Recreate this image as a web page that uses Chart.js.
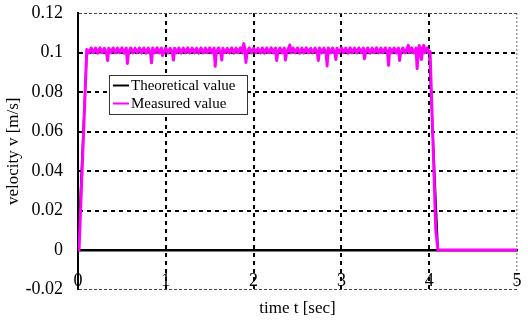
<!DOCTYPE html>
<html>
<head>
<meta charset="utf-8">
<script src="https://cdn.jsdelivr.net/npm/chart.js@4/dist/chart.umd.min.js"></script>
<style>
  html, body { margin: 0; padding: 0; background: #fff; }
  #wrap { width: 528px; height: 322px; }
</style>
</head>
<body>
<div id="wrap"><canvas id="c" width="528" height="322"></canvas></div>
<script>
// ---- data ----
const xTickLabels = ["0", "1", "2", "3", "4", "5"];
const yTickLabels = ["-0.02", "0", "0.02", "0.04", "0.06", "0.08", "0.1", "0.12"];
const seriesNames = ["Theoretical value", "Measured value"];

const theoretical = [
  [0, 0], [0.1, 0.1], [4.0, 0.1], [4.1, 0], [5.0, 0]
];

const measured = [
  [0, 0], [0.012, 0], [0.100, 0.1015],
  [0.125, 0.0998], [0.150, 0.1023], [0.175, 0.0999], [0.200, 0.1022], [0.225, 0.0997],
  [0.250, 0.1024], [0.275, 0.0999], [0.300, 0.1021], [0.325, 0.0998], [0.3375, 0.0960],
  [0.350, 0.1022], [0.375, 0.0999], [0.400, 0.1023], [0.425, 0.0998], [0.450, 0.1022],
  [0.475, 0.0999], [0.500, 0.1024], [0.525, 0.0997], [0.550, 0.1022], [0.5625, 0.0945],
  [0.575, 0.0998], [0.600, 0.1023], [0.625, 0.0998], [0.650, 0.1021], [0.675, 0.0999],
  [0.700, 0.1022], [0.725, 0.0998], [0.750, 0.1023], [0.775, 0.0997], [0.800, 0.1022],
  [0.825, 0.0999], [0.8375, 0.0948], [0.850, 0.1023], [0.875, 0.0998], [0.900, 0.1024],
  [0.925, 0.0998], [0.950, 0.1022], [0.9625, 0.0985], [0.975, 0.0999], [1.000, 0.1023],
  [1.025, 0.0998], [1.050, 0.1021], [1.075, 0.0999], [1.0875, 0.0962], [1.100, 0.1022],
  [1.125, 0.0998], [1.150, 0.1023], [1.175, 0.0997], [1.200, 0.1022], [1.225, 0.0999],
  [1.250, 0.1024], [1.275, 0.0998], [1.300, 0.1022], [1.325, 0.0999], [1.350, 0.1021],
  [1.375, 0.0997], [1.400, 0.1023], [1.425, 0.0998], [1.450, 0.1022], [1.475, 0.0999],
  [1.500, 0.1024], [1.525, 0.0998], [1.550, 0.1022], [1.5625, 0.0930], [1.575, 0.0999],
  [1.600, 0.1023], [1.625, 0.0998], [1.6375, 0.0962], [1.650, 0.1022], [1.675, 0.0999],
  [1.700, 0.1021], [1.725, 0.0998], [1.750, 0.1023], [1.775, 0.0997], [1.800, 0.1022],
  [1.825, 0.0999], [1.850, 0.1024], [1.875, 0.0998], [1.8875, 0.1045], [1.900, 0.1022],
  [1.9125, 0.0950], [1.925, 0.0999], [1.950, 0.1023], [1.975, 0.0998], [2.000, 0.1022],
  [2.025, 0.0999], [2.050, 0.1021], [2.075, 0.0998], [2.100, 0.1023], [2.125, 0.0997],
  [2.150, 0.1022], [2.175, 0.0999], [2.200, 0.1024], [2.225, 0.0998], [2.250, 0.1022],
  [2.2625, 0.0960], [2.275, 0.0999], [2.300, 0.1023], [2.325, 0.0998], [2.350, 0.1022],
  [2.3625, 0.0962], [2.375, 0.0999], [2.400, 0.1023], [2.4125, 0.1038], [2.425, 0.0998],
  [2.450, 0.1022], [2.475, 0.0999], [2.500, 0.1023], [2.525, 0.0997], [2.550, 0.1022],
  [2.575, 0.0998], [2.600, 0.1024], [2.625, 0.0999], [2.650, 0.1021], [2.675, 0.0998],
  [2.700, 0.1022], [2.725, 0.0999], [2.7375, 0.0960], [2.750, 0.1023], [2.775, 0.0998],
  [2.800, 0.1022], [2.825, 0.0999], [2.8375, 0.0932], [2.850, 0.1023], [2.875, 0.0998],
  [2.900, 0.1022], [2.925, 0.0999], [2.9375, 0.0965], [2.950, 0.1021], [2.975, 0.0998],
  [3.000, 0.1023], [3.025, 0.0999], [3.050, 0.1022], [3.075, 0.0997], [3.100, 0.1024],
  [3.125, 0.0999], [3.150, 0.1022], [3.175, 0.0998], [3.200, 0.1023], [3.225, 0.0999],
  [3.250, 0.1022], [3.2625, 0.0968], [3.275, 0.0998], [3.300, 0.1023], [3.325, 0.0997],
  [3.350, 0.1022], [3.375, 0.0999], [3.400, 0.1024], [3.425, 0.0998], [3.450, 0.1022],
  [3.475, 0.0999], [3.500, 0.1023], [3.525, 0.0998], [3.5375, 0.0935], [3.550, 0.1022],
  [3.575, 0.0999], [3.600, 0.1023], [3.625, 0.0998], [3.650, 0.1022], [3.6625, 0.0960],
  [3.675, 0.0999], [3.700, 0.1023], [3.725, 0.0998], [3.750, 0.1022], [3.7625, 0.1036],
  [3.775, 0.0999], [3.800, 0.1024], [3.825, 0.0998], [3.850, 0.1022], [3.8625, 0.0918],
  [3.875, 0.0999], [3.8875, 0.1035], [3.900, 0.0998], [3.9125, 0.0965], [3.925, 0.1022],
  [3.9375, 0.1036], [3.950, 0.0999], [3.975, 0.1023], [4.000, 0.0999],
  [4.010, 0.1005], [4.075, 0.0100], [4.100, 0], [5.000, 0]
];

const toPts = arr => arr.map(p => ({ x: p[0], y: p[1] }));

const FONT = "'Liberation Serif', 'Times New Roman', serif";

// custom boxed legend inside the plot area
const boxLegend = {
  id: 'boxLegend',
  afterDatasetsDraw(chart) {
    const { ctx, chartArea } = chart;
    const x0 = chartArea.left + 31, y0 = chartArea.top + 62;
    const w = 138, h = 39;
    ctx.save();
    ctx.fillStyle = '#fff';
    ctx.fillRect(x0, y0, w, h);
    ctx.strokeStyle = '#333';
    ctx.lineWidth = 1;
    ctx.strokeRect(x0 + 0.5, y0 + 0.5, w, h);
    ctx.font = "15px " + FONT;
    ctx.textBaseline = 'middle';
    ctx.textAlign = 'left';
    chart.data.datasets.forEach((ds, i) => {
      const yy = y0 + 10.5 + i * 18;
      ctx.strokeStyle = ds.borderColor;
      ctx.lineWidth = 2;
      ctx.beginPath();
      ctx.moveTo(x0 + 4, yy);
      ctx.lineTo(x0 + 20, yy);
      ctx.stroke();
      ctx.fillStyle = '#000';
      ctx.fillText(ds.label, x0 + 22, yy + 0.5);
    });
    ctx.restore();
  }
};

new Chart(document.getElementById('c'), {
  type: 'line',
  data: {
    datasets: [
      {
        label: seriesNames[0],
        data: toPts(theoretical),
        borderColor: '#000000',
        borderWidth: 2,
        pointRadius: 0,
        tension: 0,
        order: 1
      },
      {
        label: seriesNames[1],
        data: toPts(measured),
        borderColor: '#FF00FF',
        borderWidth: 3,
        borderJoinStyle: 'round',
        pointRadius: 0,
        tension: 0,
        order: 0
      }
    ]
  },
  options: {
    responsive: false,
    animation: false,
    layout: { padding: { top: 13, right: 11, bottom: 3, left: 0 } },
    plugins: {
      legend: { display: false },
      tooltip: { enabled: false },
      title: {
        display: true,
        text: 'time t [sec]',
        position: 'bottom',
        fullSize: false,
        color: '#000',
        font: { family: FONT, size: 17, weight: 'normal' },
        padding: { top: 9, bottom: 0 }
      }
    },
    scales: {
      x: {
        type: 'linear',
        min: 0,
        max: 5,
        position: { y: 0 },
        border: {
          display: true, color: '#000', width: 2.5,
          dash: ctx => {
            const v = ctx.tick ? ctx.tick.value : null;
            if (v === 5) return [2, 2];
            return [4, 4];
          }
        },
        grid: {
          drawTicks: true,
          tickLength: 20,
          tickColor: 'rgba(0,0,0,0)',
          color: ctx => {
            const v = ctx.tick ? ctx.tick.value : null;
            if (v === 0) return 'rgba(0,0,0,0)';
            if (v === 5) return '#999';
            return '#000';
          },
          lineWidth: ctx => {
            const v = ctx.tick ? ctx.tick.value : null;
            if (v === 5) return 1.5;
            return 2;
          }
        },
        ticks: {
          stepSize: 1,
          padding: 0,
          color: '#000',
          font: { family: FONT, size: 18 },
          maxRotation: 0,
          callback: (value, index) => xTickLabels[index]
        }
      },
      y: {
        type: 'linear',
        min: -0.02,
        max: 0.12,
        position: 'left',
        afterFit: scale => { scale.width = 78; },
        border: {
          display: true, color: '#000', width: 2,
          dash: ctx => {
            const i = ctx.index;
            if (i === 0 || i === yTickLabels.length - 1) return [3, 2];
            return [4, 4];
          }
        },
        grid: {
          drawTicks: true,
          tickLength: 15,
          tickColor: 'rgba(0,0,0,0)',
          color: ctx => {
            const i = ctx.index;
            if (i === 1) return 'rgba(0,0,0,0)';
            if (i === 0 || i === yTickLabels.length - 1) return '#444';
            return '#000';
          },
          lineWidth: ctx => {
            const i = ctx.index;
            if (i === 0 || i === yTickLabels.length - 1) return 1;
            return 2;
          }
        },
        ticks: {
          stepSize: 0.02,
          padding: 0,
          color: '#000',
          font: { family: FONT, size: 18 },
          callback: (value, index) => yTickLabels[index]
        },
        title: {
          display: true,
          text: 'velocity v [m/s]',
          color: '#000',
          font: { family: FONT, size: 17, weight: 'normal' },
          padding: { top: 3, bottom: 0 }
        }
      }
    }
  },
  plugins: [boxLegend]
});
</script>
</body>
</html>
